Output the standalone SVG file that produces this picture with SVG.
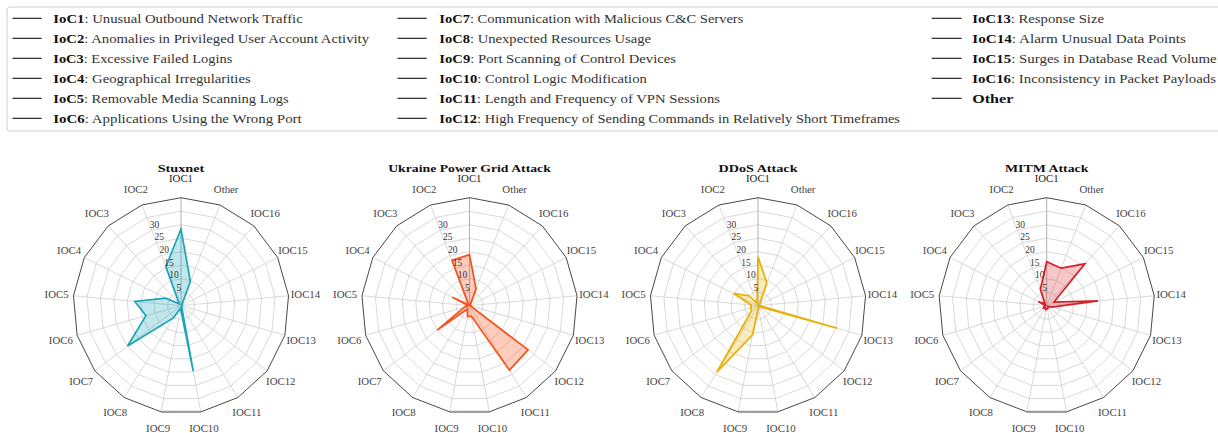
<svg xmlns="http://www.w3.org/2000/svg" xmlns:xlink="http://www.w3.org/1999/xlink" width="1218" height="433" viewBox="0 0 1218 433">
<style>
.lg{font-family:"Liberation Serif","Times New Roman",serif;font-size:13.5px;fill:#333}
.lg .b{font-weight:bold;fill:#111}
.ll{stroke:#111;stroke-width:1.1}
.ring{fill:none;stroke:#c9c9c9;stroke-width:0.7}
.spoke{fill:none;stroke:#c9c9c9;stroke-width:0.7}
.spoke0{fill:none;stroke:#a8a8a8;stroke-width:0.9}
.outer{fill:none;stroke:#333;stroke-width:0.9}
.bottom{stroke:#9a9a9a;stroke-width:2}
.tick{font-family:"Liberation Serif","Times New Roman",serif;font-size:9.5px;fill:#333;text-anchor:middle}
.ax{font-family:"Liberation Serif","Times New Roman",serif;font-size:10.8px;fill:#444;text-anchor:middle}
.ax1{fill:#222}
.title{font-family:"Liberation Serif","Times New Roman",serif;font-size:11px;font-weight:bold;fill:#111;text-anchor:middle}
.d{stroke-width:1.7;stroke-linejoin:miter}
.stux{stroke:#1aa6b7;fill:rgba(26,166,183,0.27)}
.ukr{stroke:#f8501a;fill:rgba(250,85,30,0.3)}
.ddos{stroke:#e6b000;fill:rgba(230,176,0,0.25)}
.mitm{stroke:#d62027;fill:rgba(214,32,39,0.25)}
</style>
<defs>
<polygon id="poly" vector-effect="non-scaling-stroke" points="0,-108 -39.01,-100.71 -72.76,-79.81 -96.68,-48.14 -107.54,-9.97 -103.88,29.56 -86.18,65.08 -56.85,91.82 -19.84,106.16 19.84,106.16 56.85,91.82 86.18,65.08 103.88,29.56 107.54,-9.97 96.68,-48.14 72.76,-79.81 39.01,-100.71"/>
<g id="grid">
<use xlink:href="#poly" href="#poly" class="ring" transform="scale(0.125)"/>
<use xlink:href="#poly" href="#poly" class="ring" transform="scale(0.25)"/>
<use xlink:href="#poly" href="#poly" class="ring" transform="scale(0.375)"/>
<use xlink:href="#poly" href="#poly" class="ring" transform="scale(0.5)"/>
<use xlink:href="#poly" href="#poly" class="ring" transform="scale(0.625)"/>
<use xlink:href="#poly" href="#poly" class="ring" transform="scale(0.75)"/>
<use xlink:href="#poly" href="#poly" class="ring" transform="scale(0.875)"/>
<path class="spoke" d="M0 0L-39.01 -100.71M0 0L-72.76 -79.81M0 0L-96.68 -48.14M0 0L-107.54 -9.97M0 0L-103.88 29.56M0 0L-86.18 65.08M0 0L-56.85 91.82M0 0L-19.84 106.16M0 0L19.84 106.16M0 0L56.85 91.82M0 0L86.18 65.08M0 0L103.88 29.56M0 0L107.54 -9.97M0 0L96.68 -48.14M0 0L72.76 -79.81M0 0L39.01 -100.71"/>
<path class="spoke0" d="M0 0L0 -108"/>
<use xlink:href="#poly" href="#poly" class="outer"/>
<line class="bottom" x1="-19.84" y1="106.16" x2="19.84" y2="106.16"/>
</g>
</defs>
<rect width="1218" height="433" fill="#fff"/>
<g id="legend">
<rect x="7" y="7" width="1220" height="124" rx="3" fill="#fff" stroke="#cfcfcf" stroke-width="1"/>
<g id="legend-lines">
<line class="ll" x1="12.5" y1="18.3" x2="41.7" y2="18.3"/>
<line class="ll" x1="12.5" y1="38.3" x2="41.7" y2="38.3"/>
<line class="ll" x1="12.5" y1="58.3" x2="41.7" y2="58.3"/>
<line class="ll" x1="12.5" y1="78.3" x2="41.7" y2="78.3"/>
<line class="ll" x1="12.5" y1="98.3" x2="41.7" y2="98.3"/>
<line class="ll" x1="12.5" y1="118.3" x2="41.7" y2="118.3"/>
<line class="ll" x1="397.5" y1="18.3" x2="426.7" y2="18.3"/>
<line class="ll" x1="397.5" y1="38.3" x2="426.7" y2="38.3"/>
<line class="ll" x1="397.5" y1="58.3" x2="426.7" y2="58.3"/>
<line class="ll" x1="397.5" y1="78.3" x2="426.7" y2="78.3"/>
<line class="ll" x1="397.5" y1="98.3" x2="426.7" y2="98.3"/>
<line class="ll" x1="397.5" y1="118.3" x2="426.7" y2="118.3"/>
<line class="ll" x1="931.7" y1="18.3" x2="961.7" y2="18.3"/>
<line class="ll" x1="931.7" y1="38.3" x2="961.7" y2="38.3"/>
<line class="ll" x1="931.7" y1="58.3" x2="961.7" y2="58.3"/>
<line class="ll" x1="931.7" y1="78.3" x2="961.7" y2="78.3"/>
<line class="ll" x1="931.7" y1="98.3" x2="961.7" y2="98.3"/>
</g>
<text class="lg" x="53.3" y="23.3" textLength="249.4" lengthAdjust="spacingAndGlyphs"><tspan class="b">IoC1</tspan>: Unusual Outbound Network Traffic</text>
<text class="lg" x="53.3" y="43.3" textLength="315.7" lengthAdjust="spacingAndGlyphs"><tspan class="b">IoC2</tspan>: Anomalies in Privileged User Account Activity</text>
<text class="lg" x="53.3" y="63.3" textLength="179" lengthAdjust="spacingAndGlyphs"><tspan class="b">IoC3</tspan>: Excessive Failed Logins</text>
<text class="lg" x="53.3" y="83.3" textLength="197.4" lengthAdjust="spacingAndGlyphs"><tspan class="b">IoC4</tspan>: Geographical Irregularities</text>
<text class="lg" x="53.3" y="103.3" textLength="235.4" lengthAdjust="spacingAndGlyphs"><tspan class="b">IoC5</tspan>: Removable Media Scanning Logs</text>
<text class="lg" x="53.3" y="123.3" textLength="248.4" lengthAdjust="spacingAndGlyphs"><tspan class="b">IoC6</tspan>: Applications Using the Wrong Port</text>
<text class="lg" x="439.3" y="23.3" textLength="304" lengthAdjust="spacingAndGlyphs"><tspan class="b">IoC7</tspan>: Communication with Malicious C&amp;C Servers</text>
<text class="lg" x="439.3" y="43.3" textLength="211.7" lengthAdjust="spacingAndGlyphs"><tspan class="b">IoC8</tspan>: Unexpected Resources Usage</text>
<text class="lg" x="439.3" y="63.3" textLength="236.7" lengthAdjust="spacingAndGlyphs"><tspan class="b">IoC9</tspan>: Port Scanning of Control Devices</text>
<text class="lg" x="439.3" y="83.3" textLength="207.4" lengthAdjust="spacingAndGlyphs"><tspan class="b">IoC10</tspan>: Control Logic Modification</text>
<text class="lg" x="439.3" y="103.3" textLength="280.7" lengthAdjust="spacingAndGlyphs"><tspan class="b">IoC11</tspan>: Length and Frequency of VPN Sessions</text>
<text class="lg" x="439.3" y="123.3" textLength="460.7" lengthAdjust="spacingAndGlyphs"><tspan class="b">IoC12</tspan>: High Frequency of Sending Commands in Relatively Short Timeframes</text>
<text class="lg" x="972.3" y="23.3" textLength="131.7" lengthAdjust="spacingAndGlyphs"><tspan class="b">IoC13</tspan>: Response Size</text>
<text class="lg" x="972.3" y="43.3" textLength="213.7" lengthAdjust="spacingAndGlyphs"><tspan class="b">IoC14</tspan>: Alarm Unusual Data Points</text>
<text class="lg" x="972.3" y="63.3" textLength="244.4" lengthAdjust="spacingAndGlyphs"><tspan class="b">IoC15</tspan>: Surges in Database Read Volume</text>
<text class="lg" x="972.3" y="83.3" textLength="243.7" lengthAdjust="spacingAndGlyphs"><tspan class="b">IoC16</tspan>: Inconsistency in Packet Payloads</text>
<text class="lg" x="972.3" y="103.3" textLength="41" lengthAdjust="spacingAndGlyphs"><tspan class="b">Other</tspan></text>
</g>

<g id="chart-stuxnet" transform="translate(181,305.7)">
<use xlink:href="#grid" href="#grid"/>
<polygon class="d stux" points="0,-76.68 -15.12,-39.03 -1.82,-2 -15.23,-7.58 -46.24,-4.29 -35.06,9.98 -53.43,40.35 -7.53,12.17 -0.5,2.65 12.2,65.29 0.71,1.15 1.08,0.81 1.3,0.37 1.34,-0.12 1.21,-0.6 0.91,-1 9.36,-24.17"/>
<g class="ticks"><text class="tick" x="-2.18" y="-14.99">5</text><text class="tick" x="-7.05" y="-27.58">10</text><text class="tick" x="-11.93" y="-40.17">15</text><text class="tick" x="-16.8" y="-52.76">20</text><text class="tick" x="-21.68" y="-65.34">25</text><text class="tick" x="-26.56" y="-77.93">30</text></g>
<g class="labels"><text class="ax ax1" x="0" y="-127" dy=".35em">IOC1</text><text class="ax" x="-45.15" y="-116.56" dy=".35em">IOC2</text><text class="ax" x="-84.21" y="-92.38" dy=".35em">IOC3</text><text class="ax" x="-111.9" y="-55.71" dy=".35em">IOC4</text><text class="ax" x="-124.46" y="-11.54" dy=".35em">IOC5</text><text class="ax" x="-120.23" y="34.21" dy=".35em">IOC6</text><text class="ax" x="-99.75" y="75.33" dy=".35em">IOC7</text><text class="ax" x="-65.8" y="106.28" dy=".35em">IOC8</text><text class="ax" x="-22.96" y="122.88" dy=".35em">IOC9</text><text class="ax" x="22.96" y="122.88" dy=".35em">IOC10</text><text class="ax" x="65.8" y="106.28" dy=".35em">IOC11</text><text class="ax" x="99.75" y="75.33" dy=".35em">IOC12</text><text class="ax" x="120.23" y="34.21" dy=".35em">IOC13</text><text class="ax" x="124.46" y="-11.54" dy=".35em">IOC14</text><text class="ax" x="111.9" y="-55.71" dy=".35em">IOC15</text><text class="ax" x="84.21" y="-92.38" dy=".35em">IOC16</text><text class="ax" x="45.15" y="-116.56" dy=".35em">Other</text></g>
<text class="title" x="0" y="-134.2" textLength="46.7" lengthAdjust="spacingAndGlyphs">Stuxnet</text>
</g>

<g id="chart-ukraine" transform="translate(469.5,305.7)">
<use xlink:href="#grid" href="#grid"/>
<polygon class="d ukr" points="0,-51.03 -17.55,-45.32 -0.91,-1 -17.16,-8.54 -1.34,-0.12 -5.19,1.48 -32.32,24.41 -2.13,3.44 -1.98,10.62 1.98,10.62 39.94,64.5 58.61,44.25 1.3,0.37 1.34,-0.12 1.21,-0.6 0.91,-1 6.53,-16.87"/>
<g class="ticks"><text class="tick" x="-2.18" y="-14.99">5</text><text class="tick" x="-7.05" y="-27.58">10</text><text class="tick" x="-11.93" y="-40.17">15</text><text class="tick" x="-16.8" y="-52.76">20</text><text class="tick" x="-21.68" y="-65.34">25</text><text class="tick" x="-26.56" y="-77.93">30</text></g>
<g class="labels"><text class="ax ax1" x="0" y="-127" dy=".35em">IOC1</text><text class="ax" x="-45.15" y="-116.56" dy=".35em">IOC2</text><text class="ax" x="-84.21" y="-92.38" dy=".35em">IOC3</text><text class="ax" x="-111.9" y="-55.71" dy=".35em">IOC4</text><text class="ax" x="-124.46" y="-11.54" dy=".35em">IOC5</text><text class="ax" x="-120.23" y="34.21" dy=".35em">IOC6</text><text class="ax" x="-99.75" y="75.33" dy=".35em">IOC7</text><text class="ax" x="-65.8" y="106.28" dy=".35em">IOC8</text><text class="ax" x="-22.96" y="122.88" dy=".35em">IOC9</text><text class="ax" x="22.96" y="122.88" dy=".35em">IOC10</text><text class="ax" x="65.8" y="106.28" dy=".35em">IOC11</text><text class="ax" x="99.75" y="75.33" dy=".35em">IOC12</text><text class="ax" x="120.23" y="34.21" dy=".35em">IOC13</text><text class="ax" x="124.46" y="-11.54" dy=".35em">IOC14</text><text class="ax" x="111.9" y="-55.71" dy=".35em">IOC15</text><text class="ax" x="84.21" y="-92.38" dy=".35em">IOC16</text><text class="ax" x="45.15" y="-116.56" dy=".35em">Other</text></g>
<text class="title" x="0" y="-134.2" textLength="162.7" lengthAdjust="spacingAndGlyphs">Ukraine Power Grid Attack</text>
</g>

<g id="chart-ddos" transform="translate(758,305.7)">
<use xlink:href="#grid" href="#grid"/>
<polygon class="d ddos" points="0,-48.87 -0.98,-2.52 -9.09,-9.98 -24.41,-12.15 -6.72,-0.62 -7.27,2.07 -6.46,4.88 -41.22,66.57 -5.46,29.19 0.5,2.65 0.71,1.15 1.08,0.81 79.2,22.54 1.34,-0.12 1.21,-0.6 1.82,-2 8.78,-22.66"/>
<g class="ticks"><text class="tick" x="-2.18" y="-14.99">5</text><text class="tick" x="-7.05" y="-27.58">10</text><text class="tick" x="-11.93" y="-40.17">15</text><text class="tick" x="-16.8" y="-52.76">20</text><text class="tick" x="-21.68" y="-65.34">25</text><text class="tick" x="-26.56" y="-77.93">30</text></g>
<g class="labels"><text class="ax ax1" x="0" y="-127" dy=".35em">IOC1</text><text class="ax" x="-45.15" y="-116.56" dy=".35em">IOC2</text><text class="ax" x="-84.21" y="-92.38" dy=".35em">IOC3</text><text class="ax" x="-111.9" y="-55.71" dy=".35em">IOC4</text><text class="ax" x="-124.46" y="-11.54" dy=".35em">IOC5</text><text class="ax" x="-120.23" y="34.21" dy=".35em">IOC6</text><text class="ax" x="-99.75" y="75.33" dy=".35em">IOC7</text><text class="ax" x="-65.8" y="106.28" dy=".35em">IOC8</text><text class="ax" x="-22.96" y="122.88" dy=".35em">IOC9</text><text class="ax" x="22.96" y="122.88" dy=".35em">IOC10</text><text class="ax" x="65.8" y="106.28" dy=".35em">IOC11</text><text class="ax" x="99.75" y="75.33" dy=".35em">IOC12</text><text class="ax" x="120.23" y="34.21" dy=".35em">IOC13</text><text class="ax" x="124.46" y="-11.54" dy=".35em">IOC14</text><text class="ax" x="111.9" y="-55.71" dy=".35em">IOC15</text><text class="ax" x="84.21" y="-92.38" dy=".35em">IOC16</text><text class="ax" x="45.15" y="-116.56" dy=".35em">Other</text></g>
<text class="title" x="0" y="-134.2" textLength="79" lengthAdjust="spacingAndGlyphs">DDoS Attack</text>
</g>

<g id="chart-mitm" transform="translate(1046.7,305.7)">
<use xlink:href="#grid" href="#grid"/>
<polygon class="d mitm" points="0,-44.01 -6.34,-16.37 -1.82,-2 -8.46,-4.21 -1.34,-0.12 -2.6,0.74 -3.23,2.44 -1.42,2.3 -0.74,3.98 0.5,2.65 1.42,2.3 1.08,0.81 5.19,1.48 51.35,-4.76 7.25,-3.61 38.2,-41.9 14.53,-37.51"/>
<g class="ticks"><text class="tick" x="-2.18" y="-14.99">5</text><text class="tick" x="-7.05" y="-27.58">10</text><text class="tick" x="-11.93" y="-40.17">15</text><text class="tick" x="-16.8" y="-52.76">20</text><text class="tick" x="-21.68" y="-65.34">25</text><text class="tick" x="-26.56" y="-77.93">30</text></g>
<g class="labels"><text class="ax ax1" x="0" y="-127" dy=".35em">IOC1</text><text class="ax" x="-45.15" y="-116.56" dy=".35em">IOC2</text><text class="ax" x="-84.21" y="-92.38" dy=".35em">IOC3</text><text class="ax" x="-111.9" y="-55.71" dy=".35em">IOC4</text><text class="ax" x="-124.46" y="-11.54" dy=".35em">IOC5</text><text class="ax" x="-120.23" y="34.21" dy=".35em">IOC6</text><text class="ax" x="-99.75" y="75.33" dy=".35em">IOC7</text><text class="ax" x="-65.8" y="106.28" dy=".35em">IOC8</text><text class="ax" x="-22.96" y="122.88" dy=".35em">IOC9</text><text class="ax" x="22.96" y="122.88" dy=".35em">IOC10</text><text class="ax" x="65.8" y="106.28" dy=".35em">IOC11</text><text class="ax" x="99.75" y="75.33" dy=".35em">IOC12</text><text class="ax" x="120.23" y="34.21" dy=".35em">IOC13</text><text class="ax" x="124.46" y="-11.54" dy=".35em">IOC14</text><text class="ax" x="111.9" y="-55.71" dy=".35em">IOC15</text><text class="ax" x="84.21" y="-92.38" dy=".35em">IOC16</text><text class="ax" x="45.15" y="-116.56" dy=".35em">Other</text></g>
<text class="title" x="0" y="-134.2" textLength="83.3" lengthAdjust="spacingAndGlyphs">MITM Attack</text>
</g>
</svg>
